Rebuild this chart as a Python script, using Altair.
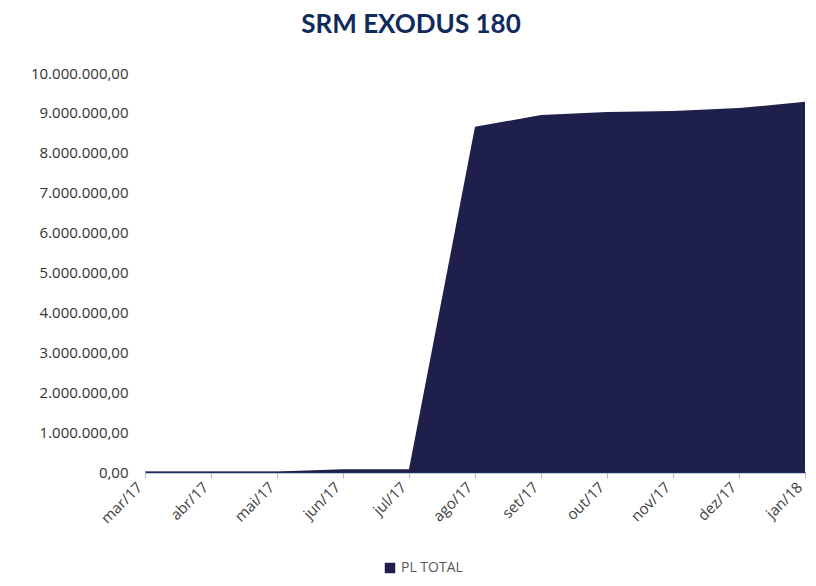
import altair as alt
import pandas as pd

months = ["mar/17", "abr/17", "mai/17", "jun/17", "jul/17", "ago/17",
          "set/17", "out/17", "nov/17", "dez/17", "jan/18"]
pl_total = [10000, 10000, 10000, 70000, 70000, 8650000,
            8950000, 9020000, 9050000, 9120000, 9280000]
series = ["PL TOTAL"] * len(months)

df = pd.DataFrame({"mes": months, "valor": pl_total, "serie": series})

chart = alt.Chart(df).mark_area(color="#1F1F4B", opacity=1).encode(
    x=alt.X("mes:N", sort=months, title=None,
            scale=alt.Scale(type="point", padding=0),
            axis=alt.Axis(labelAngle=-45, labelAlign="right", labelBaseline="bottom",
                          labelFontSize=15, labelColor="#404040", labelFont="Open Sans",
                          labelPadding=12,
                          domainColor="#1F2A5E", domainWidth=1.5,
                          tickColor="#BFBFBF", tickSize=6, grid=False)),
    y=alt.Y("valor:Q", title=None,
            scale=alt.Scale(domain=[0, 10000000], nice=False),
            axis=alt.Axis(values=list(range(0, 10000001, 1000000)), format=",.2f",
                          labelFontSize=15, labelColor="#333333", labelFont="Open Sans",
                          labelPadding=17,
                          domain=False, ticks=False, grid=False)),
    fill=alt.Fill("serie:N", scale=alt.Scale(range=["#1F1F4B"]),
                  legend=alt.Legend(title=None, orient="none", legendX=238, legendY=488,
                                    symbolType="square", symbolSize=110,
                                    labelFontSize=14, labelColor="#595959", labelFont="Open Sans",
                                    symbolStrokeWidth=0)),
).properties(
    width=660, height=399,
    title=alt.Title("SRM EXODUS 180", fontSize=26, font="Lato", fontWeight="bold",
                    color="#102A5C", anchor="middle", dx=-64, offset=28),
    padding={"left": 137, "top": 65, "right": 3, "bottom": 106},
    autosize="none",
).configure_view(stroke=None)

chart.save("out.html", embed_options={
    "renderer": "svg", "actions": False,
    "formatLocale": {"decimal": ",", "thousands": ".", "grouping": [3], "currency": ["R$", ""]},
})
